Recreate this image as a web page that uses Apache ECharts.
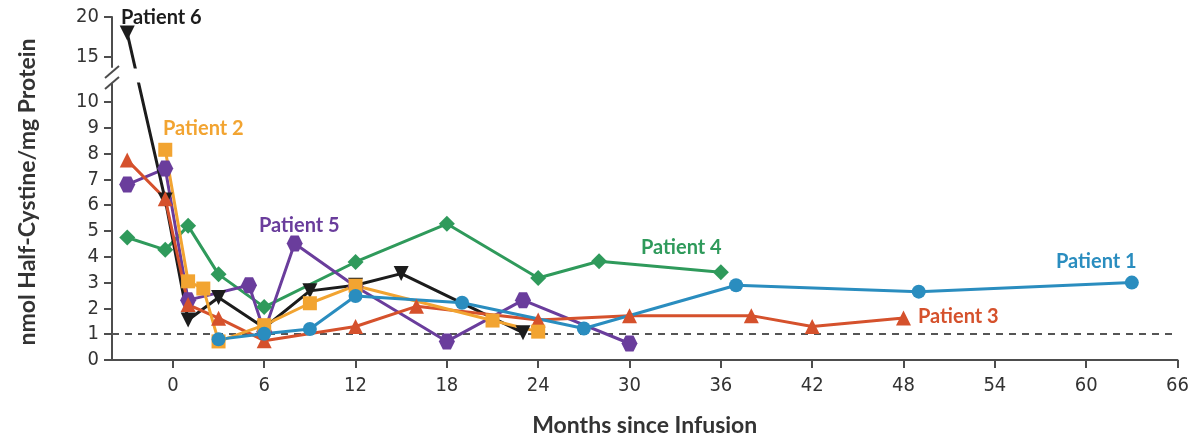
<!DOCTYPE html>
<html>
<head>
<meta charset="utf-8">
<script src="https://cdn.jsdelivr.net/npm/echarts@6/dist/echarts.min.js"></script>
<style>
  html, body { margin: 0; padding: 0; background: #ffffff; }
  #chart { width: 1192px; height: 438px; }
</style>
</head>
<body>
<div id="chart"></div>
<script>
// Half-cystine levels (nmol/mg protein) by months since infusion, one pair of arrays per patient
const p1Months = [3, 6, 9, 12, 19, 27, 37, 49, 63];
const p1Values = [0.8, 1.02, 1.2, 2.48, 2.22, 1.22, 2.9, 2.65, 3.0];
const p2Months = [-0.5, 1, 2, 3, 6, 9, 12, 21, 24];
const p2Values = [8.15, 3.05, 2.77, 0.72, 1.35, 2.2, 2.88, 1.53, 1.1];
const p3Months = [-3, -0.5, 1, 3, 6, 12, 16, 24, 30, 38, 42, 48];
const p3Values = [7.75, 6.25, 2.15, 1.62, 0.75, 1.3, 2.08, 1.55, 1.72, 1.72, 1.3, 1.63];
const p4Months = [-3, -0.5, 1, 3, 6, 12, 18, 24, 28, 36];
const p4Values = [4.75, 4.27, 5.2, 3.32, 2.05, 3.8, 5.28, 3.18, 3.83, 3.4];
const p5Months = [-3, -0.5, 1, 5, 6, 8, 12, 18, 23, 30];
const p5Values = [6.8, 7.42, 2.32, 2.9, 1.1, 4.52, 2.85, 0.72, 2.32, 0.64];
const p6Months = [-3, -0.5, 1, 3, 6, 9, 12, 15, 23];
const p6Values = [18, 6.2, 1.55, 2.42, 1.25, 2.68, 2.9, 3.35, 1.06];

// Axis ticks: lower panel 0-10, upper panel 15-20 (broken axis)
const xTicks = [0, 6, 12, 18, 24, 30, 36, 42, 48, 54, 60, 66];
const yTicksLow = [0, 1, 2, 3, 4, 5, 6, 7, 8, 9, 10];
const yTicksHigh = [15, 20];
const referenceLevel = 1;

const patientNames = ['Patient 1', 'Patient 2', 'Patient 3', 'Patient 4', 'Patient 5', 'Patient 6'];

const COLORS = {
  p1: '#2a8dbf', p2: '#f2a431', p3: '#d5512c',
  p4: '#2f9a5b', p5: '#6a3d9c', p6: '#1c1c1c'
};
const AXIS_COLOR = '#4d4d4d';
const TICK_FONT = "'Liberation Sans Narrow', 'DejaVu Sans Condensed', 'Noto Sans', sans-serif";
const LABEL_FONT = "Lato, 'Noto Sans', sans-serif";
const HEX = 'path://M-1,0 L-0.5,-0.866 L0.5,-0.866 L1,0 L0.5,0.866 L-0.5,0.866 Z';
const LINE_W = 3;

const zip = (xs, ys) => xs.map((x, i) => [x, ys[i]]);

function lineSeries(id, months, values, color, symbol, extra) {
  return Object.assign({
    id: id,
    type: 'line',
    xAxisIndex: 1,
    yAxisIndex: 1,
    data: zip(months, values),
    color: color,
    symbol: symbol,
    symbolSize: 14,
    lineStyle: { width: LINE_W, color: color },
    itemStyle: { color: color },
    clip: true,
    z: 3
  }, extra || {});
}

const chart = echarts.init(document.getElementById('chart'), null, { renderer: 'canvas' });

const X_MIN = -4, X_MAX = 66;
const LOW_MAX = 10.7, HIGH_MIN = 13.75, HIGH_MAX = 20;

const axisLineStyle = { show: true, onZero: false, lineStyle: { color: AXIS_COLOR, width: 2 } };
const tickStyle = { show: true, length: 8, lineStyle: { color: AXIS_COLOR, width: 2 } };
const tickLabel = { color: '#333333', fontFamily: TICK_FONT, fontSize: 20 };

const option = {
  animation: false,
  backgroundColor: '#ffffff',
  grid: [
    { left: 112, right: 14.5, top: 17, height: 50, containLabel: false, outerBoundsMode: 'none' },
    { left: 112, right: 14.5, top: 84, bottom: 78, containLabel: false, outerBoundsMode: 'none' }
  ],
  xAxis: [
    { type: 'value', gridIndex: 0, min: X_MIN, max: X_MAX, show: false },
    {
      type: 'value', gridIndex: 1, min: X_MIN, max: X_MAX,
      axisLine: axisLineStyle,
      axisTick: Object.assign({ customValues: xTicks }, tickStyle),
      axisLabel: Object.assign({ customValues: xTicks, margin: 16 }, tickLabel),
      splitLine: { show: false },
      name: 'Months since Infusion',
      nameLocation: 'middle',
      nameGap: 54,
      nameTextStyle: { color: '#333333', fontFamily: LABEL_FONT, fontWeight: 'bold', fontSize: 23 }
    }
  ],
  yAxis: [
    {
      type: 'value', gridIndex: 0, min: HIGH_MIN, max: HIGH_MAX,
      axisLine: axisLineStyle,
      axisTick: Object.assign({ customValues: yTicksHigh }, tickStyle),
      axisLabel: Object.assign({ customValues: yTicksHigh, margin: 13 }, tickLabel),
      splitLine: { show: false }
    },
    {
      type: 'value', gridIndex: 1, min: 0, max: LOW_MAX,
      axisLine: axisLineStyle,
      axisTick: Object.assign({ customValues: yTicksLow }, tickStyle),
      axisLabel: Object.assign({ customValues: yTicksLow, margin: 13 }, tickLabel),
      splitLine: { show: false }
    }
  ],
  series: [
    lineSeries('p4', p4Months, p4Values, COLORS.p4, 'diamond', { symbolSize: 16 }),
    lineSeries('p5', p5Months, p5Values, COLORS.p5, HEX, { symbolSize: 16 }),
    // Patient 6: the first reading sits on the upper (broken) panel
    {
      id: 'p6-upper', type: 'line', xAxisIndex: 0, yAxisIndex: 0,
      data: [[p6Months[0], p6Values[0]]],
      symbol: 'triangle', symbolRotate: 180, symbolSize: 15,
      lineStyle: { width: LINE_W, color: COLORS.p6 }, itemStyle: { color: COLORS.p6 },
      clip: true, z: 3
    },
    lineSeries('p6-lower', p6Months.slice(1), p6Values.slice(1), COLORS.p6, 'triangle',
      { symbolRotate: 180, symbolSize: 15 }),
    lineSeries('p3', p3Months, p3Values, COLORS.p3, 'triangle', { symbolSize: 15 }),
    lineSeries('p2', p2Months, p2Values, COLORS.p2, 'rect', { symbolSize: 14 }),
    lineSeries('p1', p1Months, p1Values, COLORS.p1, 'circle', {
      symbolSize: 14,
      markLine: {
        silent: true,
        symbol: 'none',
        label: { show: false },
        lineStyle: { type: [7, 6], color: '#555555', width: 2 },
        data: [{ yAxis: referenceLevel }],
        z: 1
      }
    })
  ]
};

chart.setOption(option);

// Join Patient 6's first two readings with one straight stroke across the axis break:
// each panel draws the same screen-space segment, clipped to its own grid.
const upperPx = chart.convertToPixel({ gridIndex: 0 }, [p6Months[0], p6Values[0]]);
const lowerPx = chart.convertToPixel({ gridIndex: 1 }, [p6Months[1], p6Values[1]]);
const lowerInUpper = chart.convertFromPixel({ gridIndex: 0 }, lowerPx);
const upperInLower = chart.convertFromPixel({ gridIndex: 1 }, upperPx);

chart.setOption({
  series: [
    { id: 'p6-upper', data: [[p6Months[0], p6Values[0]], { value: lowerInUpper, symbol: 'none' }] },
    { id: 'p6-lower', data: [{ value: upperInLower, symbol: 'none' }].concat(zip(p6Months.slice(1), p6Values.slice(1))) }
  ]
});

// Axis-break marks, series labels and the vertical axis title
const upperBottom = 67;
const lowTop = 84;
const axisX = 112;
const labelStyle = (text, color) => ({
  text: text, fill: color, font: 'bold 20px ' + LABEL_FONT,
  textAlign: 'left', textVerticalAlign: 'middle', align: 'left', verticalAlign: 'middle'
});

chart.setOption({
  graphic: [
    { type: 'line', shape: { x1: axisX - 7, y1: upperBottom + 11, x2: axisX + 7, y2: upperBottom - 1 },
      style: { stroke: AXIS_COLOR, lineWidth: 2 } },
    { type: 'line', shape: { x1: axisX - 7, y1: lowTop + 5, x2: axisX + 7, y2: lowTop - 7 },
      style: { stroke: AXIS_COLOR, lineWidth: 2 } },
    { type: 'text', x: 121, y: 18, style: labelStyle(patientNames[5], COLORS.p6), z: 10 },
    { type: 'text', x: 163, y: 129, style: labelStyle(patientNames[1], COLORS.p2), z: 10 },
    { type: 'text', x: 259, y: 226, style: labelStyle(patientNames[4], COLORS.p5), z: 10 },
    { type: 'text', x: 641, y: 248, style: labelStyle(patientNames[3], COLORS.p4), z: 10 },
    { type: 'text', x: 1056, y: 262, style: labelStyle(patientNames[0], COLORS.p1), z: 10 },
    { type: 'text', x: 918, y: 317, style: labelStyle(patientNames[2], COLORS.p3), z: 10 },
    {
      type: 'text', x: 28, y: 192, rotation: Math.PI / 2,
      style: {
        text: 'nmol Half-Cystine/mg Protein', fill: '#333333', font: 'bold 23px ' + LABEL_FONT,
        textAlign: 'center', textVerticalAlign: 'middle', align: 'center', verticalAlign: 'middle'
      }
    }
  ]
});
</script>
</body>
</html>
